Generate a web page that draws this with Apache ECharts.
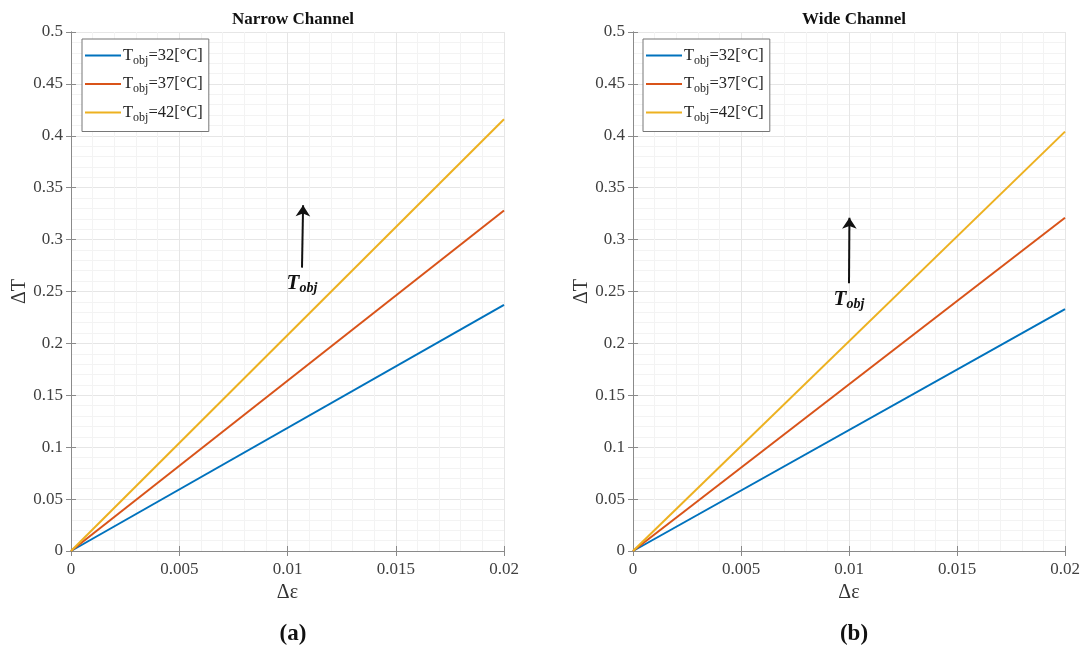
<!DOCTYPE html>
<html>
<head>
<meta charset="utf-8">
<script src="https://cdn.jsdelivr.net/npm/echarts@6/dist/echarts.min.js"></script>
<style>html,body{margin:0;padding:0;background:#fff}#c{width:1085px;height:651px}</style>
</head>
<body>
<div id="c"></div>
<script>
// ---- data ----
const xValues = [0, 0.02];
const seriesNames = ['T32', 'T37', 'T42'];
const legendTemps = ['32', '37', '42'];
const narrowT32 = [0, 0.237];
const narrowT37 = [0, 0.328];
const narrowT42 = [0, 0.416];
const wideT32 = [0, 0.233];
const wideT37 = [0, 0.321];
const wideT42 = [0, 0.404];
const xTicks = [0, 0.005, 0.01, 0.015, 0.02];
const yTicks = [0, 0.05, 0.1, 0.15, 0.2, 0.25, 0.3, 0.35, 0.4, 0.45, 0.5];
// arrow annotations [x0, y0, x1, y1] in data units
const narrowArrow = [0.01067, 0.273, 0.01072, 0.333];
const wideArrow = [0.0100, 0.258, 0.01002, 0.321];

const colors = ['#0072BD', '#D95319', '#EDB120'];
const FONT = 'Liberation Serif';
const gridColor = '#e6e6e6';
const minorColor = '#f3f3f3';
const axisColor = '#8a8a8a';

function pairs(ys) { return xValues.map((x, i) => [x, ys[i]]); }

function xAxisFor(gi, name) {
  return [{
    type: 'value', gridIndex: gi, min: 0, max: 0.02, interval: 0.005,
    name: name, nameLocation: 'middle', nameGap: 32,
    nameTextStyle: { fontFamily: FONT, fontSize: 20, color: '#333' },
    axisLine: { show: true, lineStyle: { color: axisColor } },
    axisTick: { show: true, inside: true, length: 5, lineStyle: { color: axisColor } },
    axisLabel: { fontFamily: FONT, fontSize: 17, color: '#404040', margin: 10,
      formatter: v => String(+v.toFixed(4)) },
    splitLine: { show: true, lineStyle: { color: gridColor } },
    minorTick: { show: false, splitNumber: 5 },
    minorSplitLine: { show: true, lineStyle: { color: minorColor } }
  }, {
    type: 'value', gridIndex: gi, position: 'top', min: 0, max: 0.02, interval: 0.005,
    axisLine: { show: true, lineStyle: { color: axisColor } },
    axisTick: { show: true, inside: true, length: 5, lineStyle: { color: axisColor } },
    axisLabel: { show: false }, splitLine: { show: false }
  }];
}
function yAxisFor(gi) {
  return [{
    type: 'value', gridIndex: gi, min: 0, max: 0.5, interval: 0.05,
    name: 'ΔT', nameLocation: 'middle', nameGap: 38, nameRotate: 90,
    nameTextStyle: { fontFamily: FONT, fontSize: 20, color: '#333' },
    axisLine: { show: true, lineStyle: { color: axisColor } },
    axisTick: { show: true, inside: true, length: 5, lineStyle: { color: axisColor } },
    axisLabel: { fontFamily: FONT, fontSize: 17, color: '#404040', margin: 8,
      formatter: v => String(+v.toFixed(3)) },
    splitLine: { show: true, lineStyle: { color: gridColor } },
    minorTick: { show: false, splitNumber: 5 },
    minorSplitLine: { show: true, lineStyle: { color: minorColor } }
  }, {
    type: 'value', gridIndex: gi, position: 'right', min: 0, max: 0.5, interval: 0.05,
    axisLine: { show: true, lineStyle: { color: axisColor } },
    axisTick: { show: true, inside: true, length: 5, lineStyle: { color: axisColor } },
    axisLabel: { show: false }, splitLine: { show: false }
  }];
}

function lineSeries(name, ys, ci, xi, yi) {
  return {
    type: 'line', name: name, xAxisIndex: xi, yAxisIndex: yi,
    data: pairs(ys), showSymbol: false, symbol: 'none',
    lineStyle: { width: 2, color: colors[ci] }, itemStyle: { color: colors[ci] },
    z: 3, silent: true
  };
}

function arrowSeries(a, xi, yi) {
  return {
    type: 'line', xAxisIndex: xi, yAxisIndex: yi, data: [], silent: true,
    markLine: {
      silent: true, symbol: ['none', 'arrow'], symbolSize: 11,
      lineStyle: { color: '#111', width: 2, type: 'solid' },
      label: {
        show: true, position: 'start', distance: 4,
        formatter: '{b|T}{s|obj}',
        rich: {
          b: { fontFamily: FONT, fontStyle: 'italic', fontWeight: 'bold', fontSize: 21, color: '#111' },
          s: { fontFamily: FONT, fontStyle: 'italic', fontWeight: 'bold', fontSize: 14, color: '#111', padding: [10, 0, 0, 0] }
        }
      },
      data: [[{ coord: [a[0], a[1]] }, { coord: [a[2], a[3]] }]]
    }
  };
}

function legendFor(left) {
  return {
    left: left, top: 39, orient: 'vertical', itemGap: 9,
    itemWidth: 36, itemHeight: 2, icon: 'rect',
    backgroundColor: '#fff', borderColor: '#777', borderWidth: 1,
    padding: [8, 6, 8, 3], selectedMode: false,
    data: seriesNames,
    formatter: n => '{t|T}{s|obj}{t|=' + legendTemps[seriesNames.indexOf(n)] + '[°C]}',
    textStyle: {
      fontFamily: FONT, color: '#222', padding: [0, 0, 0, -3],
      rich: {
        t: { fontFamily: FONT, fontSize: 16.5, color: '#222' },
        s: { fontFamily: FONT, fontSize: 12, color: '#222', padding: [10, 0, 0, 0] }
      }
    }
  };
}

const option = {
  animation: false,
  backgroundColor: '#fff',
  title: [
    { text: 'Narrow Channel', left: 288, top: 6, textAlign: 'center',
      textStyle: { fontFamily: FONT, fontWeight: 'bold', fontSize: 17, color: '#111' } },
    { text: 'Wide Channel', left: 849, top: 6, textAlign: 'center',
      textStyle: { fontFamily: FONT, fontWeight: 'bold', fontSize: 17, color: '#111' } },
    { text: '{p|(}{b|a}{p|)}', left: 288, top: 618, textAlign: 'center',
      textStyle: { rich: { p: { fontFamily: FONT, fontSize: 23, color: '#111' }, b: { fontFamily: FONT, fontSize: 23, fontWeight: 'bold', color: '#111' } } } },
    { text: '{p|(}{b|b}{p|)}', left: 849, top: 618, textAlign: 'center',
      textStyle: { rich: { p: { fontFamily: FONT, fontSize: 23, color: '#111' }, b: { fontFamily: FONT, fontSize: 23, fontWeight: 'bold', color: '#111' } } } }
  ],
  legend: [legendFor(82), legendFor(643)],
  grid: [
    { left: 71, top: 32, width: 433, height: 519 },
    { left: 633, top: 32, width: 432, height: 519 }
  ],
  xAxis: [...xAxisFor(0, 'Δε'), ...xAxisFor(1, 'Δε')],
  yAxis: [...yAxisFor(0), ...yAxisFor(1)],
  series: [
    lineSeries(seriesNames[0], narrowT32, 0, 0, 0),
    lineSeries(seriesNames[1], narrowT37, 1, 0, 0),
    lineSeries(seriesNames[2], narrowT42, 2, 0, 0),
    lineSeries(seriesNames[0], wideT32, 0, 2, 2),
    lineSeries(seriesNames[1], wideT37, 1, 2, 2),
    lineSeries(seriesNames[2], wideT42, 2, 2, 2),
    arrowSeries(narrowArrow, 0, 0),
    arrowSeries(wideArrow, 2, 2)
  ]
};

echarts.init(document.getElementById('c'), null, { renderer: 'canvas' }).setOption(option);
</script>
</body>
</html>
